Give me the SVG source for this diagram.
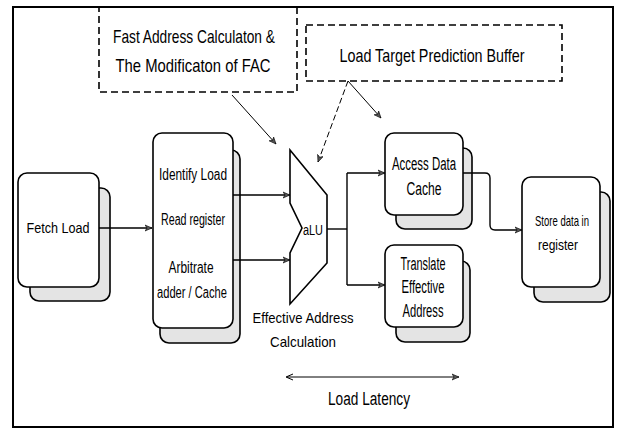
<svg xmlns="http://www.w3.org/2000/svg" width="619" height="434" viewBox="0 0 619 434">
<style>
.t{font-family:"Liberation Sans",Arial,sans-serif;fill:#000;text-anchor:middle}
.box{fill:#fff;stroke:#000;stroke-width:1.6}
.sh{fill:#e4e4e4;stroke:#000;stroke-width:1.6}
.dash{fill:none;stroke:#000;stroke-width:1.6;stroke-dasharray:7 4}
.ln{fill:none;stroke:#000;stroke-width:1.4}
.thin{fill:none;stroke:#000;stroke-width:1}
</style>
<defs>
<marker id="ah" markerWidth="8" markerHeight="8" refX="7" refY="4" orient="auto" markerUnits="userSpaceOnUse">
<path d="M0,1 L7,4 L0,7 L2,4 Z" fill="#555" stroke="#000" stroke-width="0.6"/>
</marker>
<marker id="ahs" markerWidth="8" markerHeight="8" refX="1" refY="4" orient="auto" markerUnits="userSpaceOnUse">
<path d="M7,1 L0,4 L7,7" fill="none" stroke="#000" stroke-width="1"/>
</marker>
</defs>
<rect x="13" y="7" width="600" height="420" fill="#fff" stroke="#000" stroke-width="2"/>

<g id="fac">
<rect class="dash" x="99" y="7" width="198" height="85"/>
<text class="t" x="194" y="43" font-size="19" textLength="162" lengthAdjust="spacingAndGlyphs">Fast Address Calculaton &amp;</text>
<text class="t" x="193" y="72" font-size="19" textLength="155" lengthAdjust="spacingAndGlyphs">The Modificaton of FAC</text>
</g>
<g id="ltpb">
<rect class="dash" x="306" y="25" width="256" height="56"/>
<text class="t" x="432" y="62" font-size="19" textLength="185" lengthAdjust="spacingAndGlyphs">Load Target Prediction Buffer</text>
</g>

<g id="fetch">
<rect class="sh" x="30" y="188" width="80" height="113" rx="9"/>
<rect class="box" x="18" y="173" width="81" height="114" rx="9"/>
<text class="t" x="58" y="233" font-size="15" textLength="63" lengthAdjust="spacingAndGlyphs">Fetch Load</text>
</g>
<g id="identify">
<rect class="sh" x="160" y="150" width="80" height="193" rx="9"/>
<rect class="box" x="153" y="133" width="80" height="195" rx="9"/>
<text class="t" x="193" y="180" font-size="16" textLength="68" lengthAdjust="spacingAndGlyphs">Identify Load</text>
<text class="t" x="193" y="225" font-size="16" textLength="64" lengthAdjust="spacingAndGlyphs">Read register</text>
<text class="t" x="191" y="273" font-size="16" textLength="45" lengthAdjust="spacingAndGlyphs">Arbitrate</text>
<text class="t" x="192" y="298" font-size="16" textLength="70" lengthAdjust="spacingAndGlyphs">adder / Cache</text>
</g>
<g id="alu">
<polygon class="box" points="290,150 327,195 327,263 290,304 290,253 302,228 290,203"/>
<text class="t" x="313" y="235" font-size="14" textLength="20" lengthAdjust="spacingAndGlyphs">aLU</text>
</g>
<g id="eac">
<text class="t" x="303" y="323" font-size="15" textLength="101" lengthAdjust="spacingAndGlyphs">Effective Address</text>
<text class="t" x="303" y="347" font-size="15" textLength="66" lengthAdjust="spacingAndGlyphs">Calculation</text>
</g>
<g id="access">
<rect class="sh" x="396" y="148" width="76" height="81" rx="9"/>
<rect class="box" x="385" y="133" width="78" height="82" rx="9"/>
<text class="t" x="424" y="170" font-size="18" textLength="64" lengthAdjust="spacingAndGlyphs">Access Data</text>
<text class="t" x="424" y="195" font-size="18" textLength="35" lengthAdjust="spacingAndGlyphs">Cache</text>
</g>
<g id="translate">
<rect class="sh" x="396" y="261" width="74" height="81" rx="9"/>
<rect class="box" x="385" y="245" width="78" height="82" rx="9"/>
<text class="t" x="423" y="270" font-size="18" textLength="45" lengthAdjust="spacingAndGlyphs">Translate</text>
<text class="t" x="423" y="293" font-size="18" textLength="43" lengthAdjust="spacingAndGlyphs">Effective</text>
<text class="t" x="423" y="317" font-size="18" textLength="41" lengthAdjust="spacingAndGlyphs">Address</text>
</g>
<g id="store">
<rect class="sh" x="534" y="192" width="76" height="110" rx="9"/>
<rect class="box" x="522" y="177" width="78" height="110" rx="9"/>
<text class="t" x="562" y="226" font-size="15" textLength="54" lengthAdjust="spacingAndGlyphs">Store data in</text>
<text class="t" x="558" y="250" font-size="15" textLength="40" lengthAdjust="spacingAndGlyphs">register</text>
</g>
<g id="latency">
<text class="t" x="369" y="405" font-size="18" textLength="82" lengthAdjust="spacingAndGlyphs">Load Latency</text>
</g>

<g id="connectors">
<path class="ln" d="M99 228 H152" marker-end="url(#ah)"/>
<path class="ln" d="M233 195 H290" marker-end="url(#ah)"/>
<path class="ln" d="M233 260 H290" marker-end="url(#ah)"/>
<path class="ln" d="M327 229 H347"/>
<path class="ln" d="M347 173 V285"/>
<path class="ln" d="M347 173 H385" marker-end="url(#ah)"/>
<path class="ln" d="M347 285 H385" marker-end="url(#ah)"/>
<path class="ln" d="M463 173 H485 Q490 173 490 178 V225 Q490 230 495 230 H522" marker-end="url(#ah)"/>
<path class="thin" d="M232 95 L276 144" marker-end="url(#ah)"/>
<path class="thin" d="M348 81 L381 118" marker-end="url(#ah)"/>
<path class="thin" d="M348 81 L318 162" stroke-dasharray="6 3" marker-end="url(#ah)"/>
<path class="thin" d="M287 377 H459" stroke-width="1.4" marker-start="url(#ahs)" marker-end="url(#ah)"/>
</g>
</svg>
